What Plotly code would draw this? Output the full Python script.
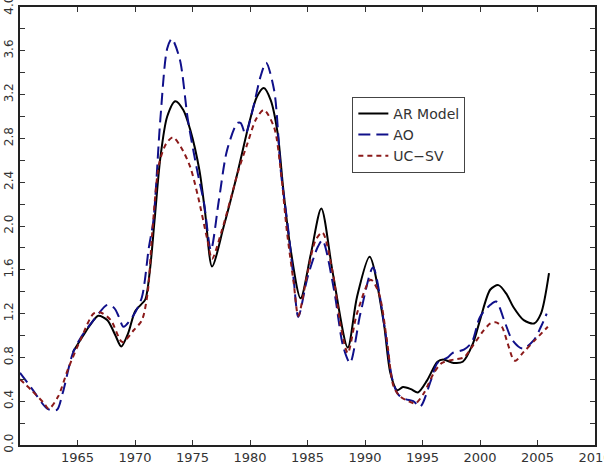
import plotly.graph_objects as go

# AR Model (black, solid)
ar_years = [1964.6, 1965.5, 1966.0, 1966.8, 1967.6, 1968.3, 1968.8, 1969.4, 1970.0, 1970.5, 1970.9,
            1971.3, 1971.7, 1972.2, 1972.8, 1973.5, 1974.2, 1974.8, 1975.6, 1976.1, 1976.7,
            1977.7, 1978.9, 1980.0, 1980.6, 1981.2, 1981.8, 1982.4, 1982.9, 1983.5, 1984.4,
            1985.3, 1986.2, 1987.2, 1988.5, 1989.3, 1990.4, 1991.6, 1992.2, 1992.8, 1993.3,
            1994.0, 1994.6, 1995.4, 1996.3, 1996.8, 1997.7, 1998.5, 1999.4, 2000.0, 2000.9,
            2001.6, 2002.3, 2002.9, 2003.8, 2004.7, 2005.3, 2006.0]
ar_vals = [0.85, 1.00, 1.08, 1.18, 1.14, 1.00, 0.90, 1.02, 1.22, 1.28, 1.33,
           1.60, 2.05, 2.62, 3.00, 3.14, 3.06, 2.88, 2.51, 2.12, 1.63,
           1.99, 2.48, 2.97, 3.18, 3.26, 3.15, 2.85, 2.33, 1.81, 1.34,
           1.75, 2.16, 1.57, 0.89, 1.35, 1.72, 1.14, 0.66, 0.50, 0.53,
           0.51, 0.48, 0.59, 0.76, 0.78, 0.75, 0.76, 0.93, 1.14, 1.42,
           1.46, 1.38, 1.26, 1.14, 1.11, 1.20, 1.57]

# AO (blue, long dashes)
ao_years = [1960.0, 1961.0, 1962.4, 1963.2, 1963.7, 1964.6, 1965.4, 1966.4, 1967.6, 1968.2,
            1968.6, 1969.0, 1969.9, 1970.6, 1971.2, 1971.6, 1972.2, 1972.8, 1973.2, 1973.9,
            1974.6, 1975.4, 1976.0, 1976.6, 1977.3, 1978.0, 1978.9, 1979.2, 1979.6, 1980.3,
            1980.9, 1981.4, 1982.1, 1982.7, 1983.3, 1983.8, 1984.2, 1985.0, 1985.9, 1986.3,
            1987.3, 1988.1, 1988.7, 1989.6, 1990.7, 1991.7, 1992.4, 1992.9, 1993.5, 1994.2,
            1994.8, 1995.7, 1996.3, 1997.2, 1997.6, 1998.6, 1999.3, 2000.0, 2000.9, 2001.4,
            2002.2, 2002.8, 2003.7, 2004.7, 2005.3, 2005.8]
ao_vals = [0.66, 0.52, 0.33, 0.32, 0.47, 0.84, 1.00, 1.14, 1.28, 1.25,
           1.17, 1.08, 1.19, 1.35, 1.80, 2.05, 2.97, 3.62, 3.71, 3.52,
           2.97, 2.51, 2.21, 1.78, 2.24, 2.69, 2.94, 2.94, 2.84, 3.09,
           3.36, 3.49, 3.24, 2.48, 1.99, 1.51, 1.17, 1.53, 1.81, 1.87,
           1.42, 0.90, 0.75, 1.20, 1.62, 1.08, 0.59, 0.46, 0.42, 0.40,
           0.35, 0.58, 0.75, 0.80, 0.84, 0.87, 0.94, 1.17, 1.28, 1.31,
           1.11, 0.96, 0.88, 0.96, 1.08, 1.20]

# UC-SV (dark red, short dashes)
uc_years = [1960.0, 1961.0, 1962.1, 1962.5, 1963.3, 1964.2, 1965.3, 1966.4, 1967.0, 1967.9,
            1968.9, 1969.9, 1970.6, 1971.1, 1971.5, 1972.1, 1972.7, 1973.3, 1974.0, 1974.8,
            1975.5, 1976.3, 1976.7, 1977.5, 1978.3, 1979.0, 1979.8, 1980.5, 1981.2, 1982.1,
            1982.7, 1983.2, 1983.8, 1984.2, 1985.0, 1985.7, 1986.3, 1987.2, 1987.9, 1988.5,
            1989.3, 1990.5, 1991.2, 1991.9, 1992.5, 1993.1, 1994.0, 1994.4, 1995.1, 1996.0,
            1996.7, 1997.7, 1998.6, 1999.4, 2000.2, 2000.9, 2001.4, 2001.9, 2002.4, 2002.9,
            2003.1, 2003.8, 2004.8, 2005.9]
uc_vals = [0.60, 0.50, 0.38, 0.33, 0.44, 0.70, 0.97, 1.20, 1.21, 1.14,
           0.94, 1.05, 1.14, 1.39, 1.94, 2.57, 2.75, 2.81, 2.72, 2.54,
           2.26, 1.87, 1.70, 1.94, 2.24, 2.51, 2.76, 2.97, 3.06, 2.90,
           2.48, 1.96, 1.48, 1.18, 1.57, 1.87, 1.94, 1.57, 1.08, 0.84,
           1.20, 1.51, 1.39, 0.96, 0.53, 0.44, 0.39, 0.38, 0.47, 0.66,
           0.75, 0.78, 0.80, 0.91, 1.03, 1.11, 1.12, 1.08, 0.93, 0.78,
           0.77, 0.85, 0.96, 1.08]

x_ticks = [1965, 1970, 1975, 1980, 1985, 1990, 1995, 2000, 2005, 2010]

fig = go.Figure()
fig.add_trace(go.Scatter(x=ar_years, y=ar_vals, mode="lines", name="AR Model",
                         line=dict(color="black", width=2, shape="spline", smoothing=0.8)))
fig.add_trace(go.Scatter(x=ao_years, y=ao_vals, mode="lines", name="AO",
                         line=dict(color="#10108a", width=2, dash="12px,6px", shape="spline", smoothing=0.8)))
fig.add_trace(go.Scatter(x=uc_years, y=uc_vals, mode="lines", name="UC\u2212SV",
                         line=dict(color="#8b1a1a", width=2, dash="5px,4px", shape="spline", smoothing=0.8)))

fig.update_layout(
    width=604, height=470,
    margin=dict(l=20, r=9, t=7, b=25),
    paper_bgcolor="white", plot_bgcolor="white",
    font=dict(family="DejaVu Sans", size=13, color="#333"),
    showlegend=True,
    legend=dict(x=0.578, y=0.795, xanchor="left", yanchor="top",
                bordercolor="#444", borderwidth=1, bgcolor="white",
                font=dict(family="DejaVu Sans", size=14, color="#333"),
                tracegroupgap=0, itemwidth=30),
)
fig.update_xaxes(range=[1960, 2010], tickvals=x_ticks, ticks="inside", ticklen=5,
                 tickcolor="#333", showline=True, linecolor="#222", linewidth=1.5,
                 mirror="ticks", showgrid=False, zeroline=False, ticklabeloverflow="allow",
                 automargin=False,
                 tickfont=dict(size=13, color="#333"))
fig.update_yaxes(range=[0, 4], tick0=0, dtick=0.4, tickformat=".1f", ticks="inside", ticklen=5,
                 tickcolor="#333", showline=True, linecolor="#222", linewidth=1.5,
                 mirror="ticks", showgrid=False, zeroline=False, tickangle=-90,
                 ticklabeloverflow="allow", automargin=False,
                 tickfont=dict(size=12, color="#333"),
                 minor=dict(dtick=0.2, tick0=0, ticks="inside", ticklen=5, tickcolor="#333", showgrid=False))

fig.write_html("out.html")
